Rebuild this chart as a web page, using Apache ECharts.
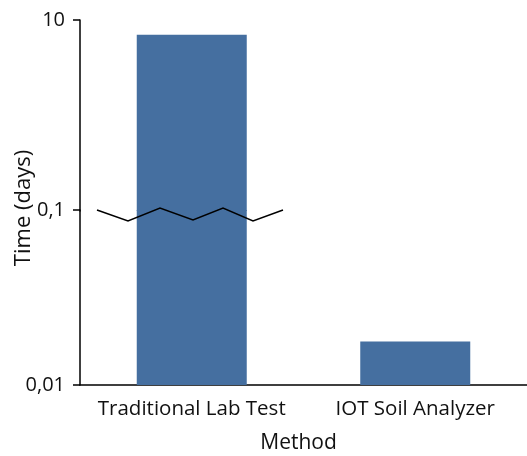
<!DOCTYPE html>
<html>
<head>
<meta charset="utf-8">
<script src="https://cdn.jsdelivr.net/npm/echarts@6/dist/echarts.min.js"></script>
<style>html,body{margin:0;padding:0;background:#fff;}#c{width:527px;height:456px;}</style>
</head>
<body>
<div id="c"></div>
<script>
const categories = ['Traditional Lab Test', 'IOT Soil Analyzer'];
const timeDays = [7.0, 0.0177];
const upperTicks = [10];
const lowerTicks = [0.01, 0.1];
const yTitle = 'Time (days)';
const xTitle = 'Method';

const FONT = 'Open Sans';
const fmt = v => String(v).replace('.', ',');
const chart = echarts.init(document.getElementById('c'));
const barData = categories.map((c, i) => [i, timeDays[i]]);
const BAR_W = 110;

function makeBarRenderer(axisMin) {
  return function (params, api) {
    const cat = api.value(0), v = api.value(1);
    const pTop = api.coord([cat, v]);
    const pBase = api.coord([cat, axisMin]);
    const y0 = Math.min(pTop[1], pBase[1]);
    const y1 = Math.max(pTop[1], pBase[1]);
    const cs = params.coordSys;
    const rect = echarts.graphic.clipRectByRect(
      { x: pTop[0] - BAR_W / 2, y: y0, width: BAR_W, height: y1 - y0 },
      { x: cs.x, y: cs.y, width: cs.width, height: cs.height });
    if (!rect || rect.height <= 0) return null;
    return { type: 'rect', shape: rect, style: { fill: '#456fa0' } };
  };
}

const yAxisCommon = (min, max, ticks) => ({
  type: 'log', min: min, max: max,
  axisLine: { show: true, lineStyle: { color: '#000', width: 1.5 } },
  axisTick: { show: true, length: 7, lineStyle: { color: '#000', width: 1.5 }, customValues: ticks },
  axisLabel: { color: '#111', fontFamily: FONT, fontSize: 20, margin: 15, formatter: fmt, customValues: ticks },
  splitLine: { show: false }
});

chart.setOption({
  animation: false,
  grid: [
    { left: 80, right: 0, top: 20, height: 191 },
    { left: 80, right: 0, top: 210, bottom: 71 }
  ],
  xAxis: [
    { type: 'category', gridIndex: 0, data: categories, show: false },
    { type: 'category', gridIndex: 1, data: categories,
      axisLine: { lineStyle: { color: '#000', width: 1.5 } },
      axisTick: { show: false },
      axisLabel: { interval: 0, color: '#111', fontFamily: FONT, fontSize: 20.5, margin: 14 },
      name: xTitle, nameLocation: 'middle', nameGap: 48,
      nameTextStyle: { color: '#111', fontFamily: FONT, fontSize: 21, padding: [0, 10, 0, 0] } }
  ],
  yAxis: [
    Object.assign({ gridIndex: 0 }, yAxisCommon(0.1, 10, upperTicks)),
    Object.assign({ gridIndex: 1 }, yAxisCommon(0.01, 0.1, lowerTicks))
  ],
  series: [
    { type: 'custom', xAxisIndex: 0, yAxisIndex: 0, data: barData, renderItem: makeBarRenderer(0.1), clip: true },
    { type: 'custom', xAxisIndex: 1, yAxisIndex: 1, data: barData, renderItem: makeBarRenderer(0.01), clip: true }
  ]
});

const yBreak = chart.convertToPixel({ yAxisIndex: 1 }, 0.1);
const zz = [[97, 0], [128, 11], [160, -2], [193, 10], [223, -2], [253, 11], [283, 0]];
chart.setOption({
  graphic: [
    { type: 'polyline', shape: { points: zz.map(p => [p[0], yBreak + p[1]]) },
      style: { stroke: '#000', lineWidth: 1.5, fill: null }, z: 100 },
    { type: 'text', x: 24, y: 208, rotation: Math.PI / 2,
      style: { text: yTitle, fill: '#111', font: '22px "' + FONT + '"', align: 'center', verticalAlign: 'middle' } }
  ]
});
</script>
</body>
</html>
